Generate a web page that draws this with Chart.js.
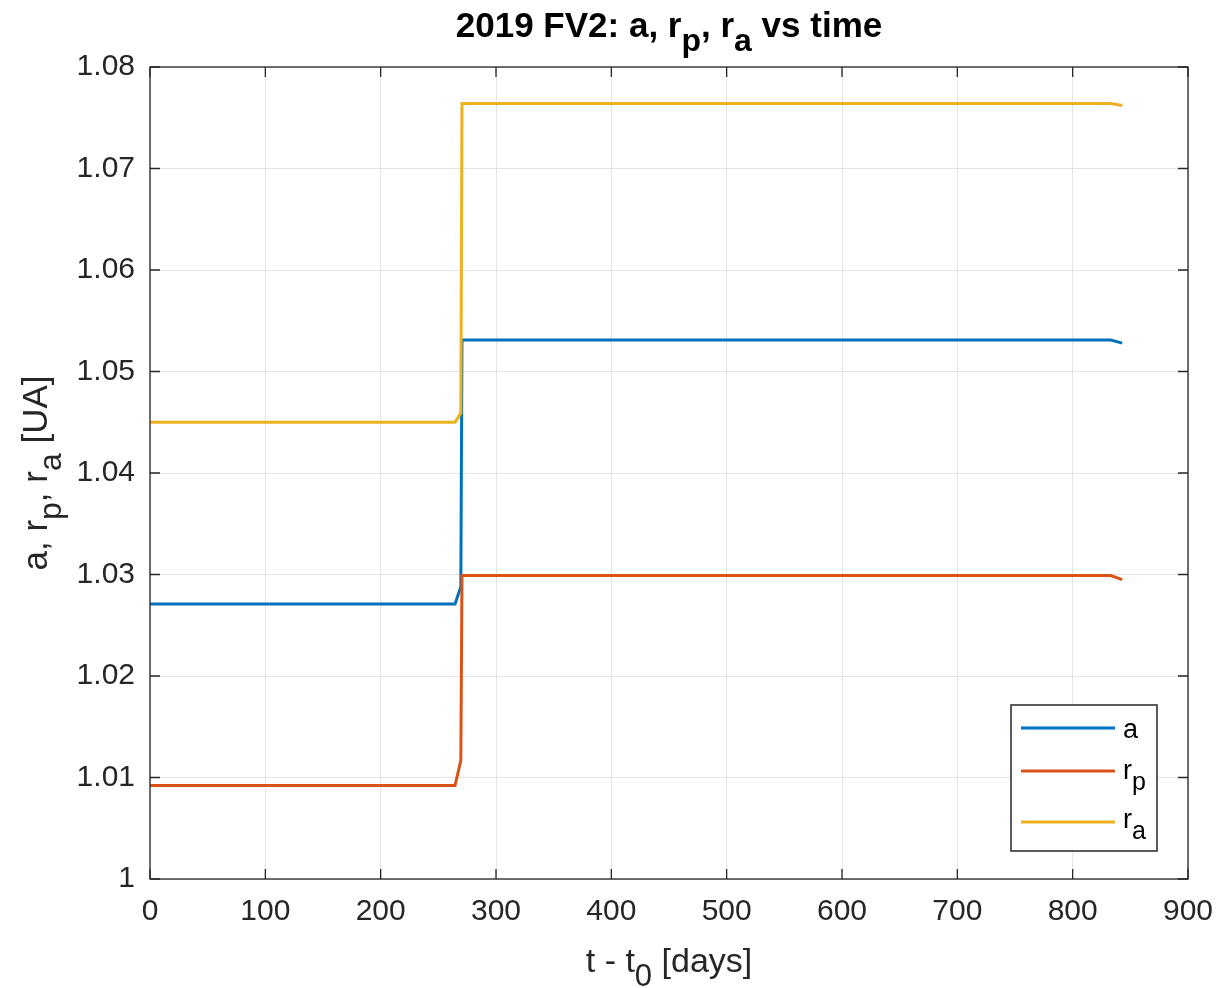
<!DOCTYPE html>
<html>
<head>
<meta charset="utf-8">
<title>2019 FV2</title>
<script src="https://cdn.jsdelivr.net/npm/chart.js@4/dist/chart.umd.min.js"></script>
<style>
  html, body { margin: 0; padding: 0; background: #fff; }
  #orbitChart { display: block; }
</style>
</head>
<body>
<canvas id="orbitChart" width="1225" height="988"></canvas>
<script>
// Orbit elements of 2019 FV2 over time (days since t0)
const days       = [0, 264.5, 269.5, 270.5, 833, 843];
const semiMajor  = [1.0271, 1.0271, 1.0288, 1.0531, 1.0531, 1.0528];
const perihelion = [1.0092, 1.0092, 1.0117, 1.0299, 1.0299, 1.0295];
const aphelion   = [1.0450, 1.0450, 1.0459, 1.0764, 1.0764, 1.0762];

const seriesLabels = ["a", "r_p", "r_a"];
const seriesColors = ["#0072BD", "#D95319", "#EDB120"];

const xTicks = [0, 100, 200, 300, 400, 500, 600, 700, 800, 900];
const yTicks = [1.00, 1.01, 1.02, 1.03, 1.04, 1.05, 1.06, 1.07, 1.08];

const FONT = "'Liberation Sans', Arial, Helvetica, sans-serif";
const INK = "#262626";

const toPoints = vals => days.map((d, i) => ({ x: d, y: vals[i] }));

// draws text where "_x" means a subscript x
function drawRich(ctx, text, x, y, size, weight, align) {
    const runs = [];
    let buf = "";
    for (let i = 0; i < text.length; i++) {
        if (text[i] === "_" && i + 1 < text.length) {
            if (buf) runs.push({ t: buf, sub: false });
            buf = "";
            runs.push({ t: text[i + 1], sub: true });
            i++;
        } else {
            buf += text[i];
        }
    }
    if (buf) runs.push({ t: buf, sub: false });

    const subSize = Math.round(size * 0.92);
    const fontFor = r => `${weight} ${r.sub ? subSize : size}px ${FONT}`;
    let total = 0;
    runs.forEach(r => {
        ctx.font = fontFor(r);
        r.w = ctx.measureText(r.t).width;
        total += r.w;
    });
    let cx = align === "center" ? x - total / 2 : x;
    ctx.textAlign = "left";
    ctx.textBaseline = "alphabetic";
    runs.forEach(r => {
        ctx.font = fontFor(r);
        ctx.fillText(r.t, cx, r.sub ? y + size * 0.4 : y);
        cx += r.w;
    });
}

const framePlugin = {
    id: "frame",
    beforeDraw(chart) {
        const ctx = chart.ctx;
        ctx.save();
        ctx.fillStyle = "#fff";
        ctx.fillRect(0, 0, chart.width, chart.height);
        ctx.restore();
    },
    afterDatasetsDraw(chart) {
        const { ctx, chartArea: a, scales } = chart;
        ctx.save();
        ctx.strokeStyle = INK;
        ctx.lineWidth = 1.3;
        ctx.strokeRect(a.left, a.top, a.right - a.left, a.bottom - a.top);
        // inward tick marks on all four sides
        const len = 10;
        ctx.beginPath();
        xTicks.forEach(v => {
            const px = scales.x.getPixelForValue(v);
            ctx.moveTo(px, a.bottom); ctx.lineTo(px, a.bottom - len);
            ctx.moveTo(px, a.top); ctx.lineTo(px, a.top + len);
        });
        yTicks.forEach(v => {
            const py = scales.y.getPixelForValue(v);
            ctx.moveTo(a.left, py); ctx.lineTo(a.left + len, py);
            ctx.moveTo(a.right, py); ctx.lineTo(a.right - len, py);
        });
        ctx.stroke();
        ctx.restore();
    },
    afterDraw(chart) {
        const { ctx, chartArea: a } = chart;
        ctx.save();
        ctx.fillStyle = "#000";
        drawRich(ctx, "2019 FV2: a, r_p, r_a vs time", (a.left + a.right) / 2, 37, 35, "bold", "center");

        ctx.fillStyle = INK;
        drawRich(ctx, "t - t_0 [days]", (a.left + a.right) / 2, 972, 34, "normal", "center");

        ctx.save();
        ctx.translate(47, (a.top + a.bottom) / 2);
        ctx.rotate(-Math.PI / 2);
        drawRich(ctx, "a, r_p, r_a [UA]", 0, 0, 35, "normal", "center");
        ctx.restore();

        // legend box in the lower right corner
        const box = { x: 1011, y: 705, w: 146, h: 146 };
        ctx.fillStyle = "#fff";
        ctx.fillRect(box.x, box.y, box.w, box.h);
        ctx.strokeStyle = INK;
        ctx.lineWidth = 1.5;
        ctx.strokeRect(box.x, box.y, box.w, box.h);
        const rows = [{ line: 728, text: 738 }, { line: 771, text: 779 }, { line: 822, text: 828 }];
        chart.data.datasets.forEach((ds, i) => {
            ctx.strokeStyle = ds.borderColor;
            ctx.lineWidth = 3;
            ctx.beginPath();
            ctx.moveTo(1021, rows[i].line);
            ctx.lineTo(1115, rows[i].line);
            ctx.stroke();
            ctx.fillStyle = "#000";
            drawRich(ctx, ds.label, 1123, rows[i].text, 27, "normal", "left");
        });
        ctx.restore();
    }
};

const ctx = document.getElementById("orbitChart").getContext("2d");

new Chart(ctx, {
    type: "line",
    data: {
        datasets: [semiMajor, perihelion, aphelion].map((vals, i) => ({
            label: seriesLabels[i],
            data: toPoints(vals),
            borderColor: seriesColors[i],
            backgroundColor: seriesColors[i],
            borderWidth: 3,
            pointRadius: 0,
            tension: 0,
            fill: false,
            order: 3 - i
        }))
    },
    options: {
        responsive: false,
        animation: false,
        events: [],
        layout: { padding: { top: 67, right: 37, left: 0, bottom: 0 } },
        plugins: {
            legend: { display: false },
            tooltip: { enabled: false },
            title: { display: false }
        },
        scales: {
            x: {
                type: "linear",
                min: 0,
                max: 900,
                afterFit: scale => {
                    scale.height = 109;
                    scale.paddingLeft = 0;
                    scale.paddingRight = 0;
                },
                afterBuildTicks: scale => { scale.ticks = xTicks.map(v => ({ value: v })); },
                ticks: {
                    padding: 15,
                    color: INK,
                    font: { family: FONT, size: 30 },
                    maxRotation: 0,
                    callback: v => String(v)
                },
                grid: { color: "#e3e3e3", lineWidth: 1, drawTicks: false },
                border: { display: false }
            },
            y: {
                type: "linear",
                min: 1,
                max: 1.08,
                afterFit: scale => {
                    scale.width = 150;
                    scale.paddingTop = 0;
                    scale.paddingBottom = 0;
                },
                afterBuildTicks: scale => { scale.ticks = yTicks.map(v => ({ value: v })); },
                ticks: {
                    padding: 15,
                    color: INK,
                    font: { family: FONT, size: 30 },
                    callback: v => String(Number(v.toFixed(2)))
                },
                grid: { color: "#e3e3e3", lineWidth: 1, drawTicks: false },
                border: { display: false }
            }
        }
    },
    plugins: [framePlugin]
});
</script>
</body>
</html>
